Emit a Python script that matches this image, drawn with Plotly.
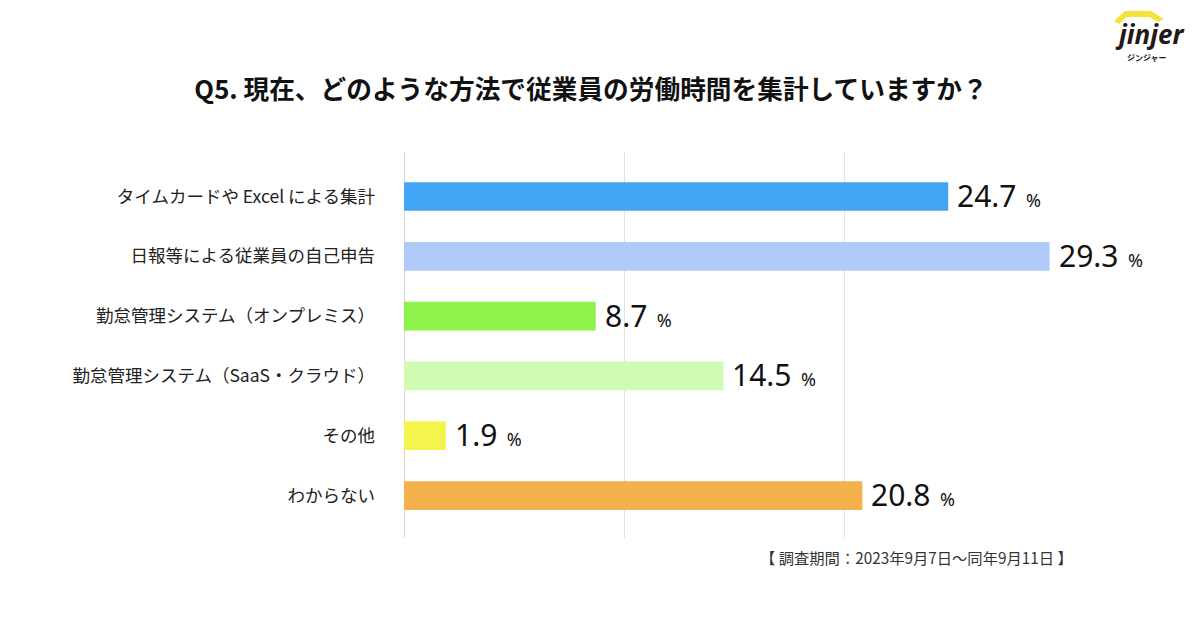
import plotly.graph_objects as go

categories = [
    "タイムカードや Excel による集計",
    "日報等による従業員の自己申告",
    "勤怠管理システム（オンプレミス）",
    "勤怠管理システム（SaaS・クラウド）",
    "その他",
    "わからない",
]
values = [24.7, 29.3, 8.7, 14.5, 1.9, 20.8]
colors = ["#42A5F5", "#B0CBFA", "#8DF24A", "#D0FBB1", "#F4F54C", "#F5B24C"]

title_text = "Q5. 現在、どのような方法で従業員の労働時間を集計していますか？"
note_text = "【 調査期間：2023年9月7日～同年9月11日 】"

OFF = 8  # page body margin
W, H = 1200 - OFF, 630 - OFF
# target page-pixel positions of the plot area
L_PG, R_PG, T_PG, B_PG = 404, 1065, 152, 538
ML, MT = L_PG - OFF, T_PG - OFF
MR = W - (R_PG - OFF)
MB = H - (B_PG - OFF)
PW, PH = W - ML - MR, H - MT - MB


def px(x):
    """page pixel x -> paper coordinate"""
    return (x - OFF - ML) / PW


def py(y):
    """page pixel y -> paper coordinate"""
    return (H - MB - (y - OFF)) / PH


FONT = "Noto Sans CJK JP, Noto Sans, sans-serif"

fig = go.Figure()
fig.add_trace(go.Bar(
    x=values,
    y=categories,
    orientation="h",
    marker=dict(color=colors, line=dict(width=0)),
    width=0.48,
    hoverinfo="skip",
))

for c, v in zip(categories, values):
    fig.add_annotation(
        x=v, y=c, xref="x", yref="y",
        text=(f"<span style='font-size:30px'>{v:.1f}</span>"
              f"<span style='font-size:18px'>&nbsp;&nbsp;%</span>"),
        showarrow=False, xanchor="left", yanchor="middle", xshift=7, yshift=1,
        font=dict(family="Noto Sans, sans-serif", color="#111111"),
    )

fig.add_annotation(
    x=1.0, y=py(557), xref="paper", yref="paper",
    text=note_text, showarrow=False, xanchor="right", yanchor="middle",
    xshift=10,
    font=dict(family=FONT, size=15.3, color="#333333"),
)

# logo
fig.add_shape(
    type="path", xref="paper", yref="paper",
    path=(f"M {px(1114)},{py(21)} L {px(1125)},{py(11)} L {px(1151)},{py(11)} "
          f"L {px(1164)},{py(19)} L {px(1158)},{py(22)} L {px(1149)},{py(17)} "
          f"L {px(1127)},{py(17)} L {px(1119)},{py(24)} Z"),
    fillcolor="#F5E23A", line=dict(width=0), layer="above",
)
fig.add_annotation(
    x=px(1150), y=py(34), xref="paper", yref="paper",
    text="<b><i>jinjer</i></b>", showarrow=False, xanchor="center", yanchor="middle",
    font=dict(family="Noto Sans, sans-serif", size=26, color="#231815"),
)
fig.add_annotation(
    x=px(1147), y=py(57), xref="paper", yref="paper",
    text="<b>ジンジャー</b>", showarrow=False, xanchor="center", yanchor="middle",
    font=dict(family=FONT, size=8, color="#231815"),
)

fig.update_layout(
    width=W, height=H,
    margin=dict(l=ML, r=MR, t=MT, b=MB),
    paper_bgcolor="white", plot_bgcolor="white",
    showlegend=False,
    title=dict(
        text=f"<b>{title_text}</b>",
        x=(591 - OFF) / W, xref="container", xanchor="center",
        y=1 - (90 - OFF) / H, yref="container", yanchor="middle",
        font=dict(family=FONT, size=25.7, color="#111111"),
    ),
    xaxis=dict(
        range=[0, 30], dtick=10, showticklabels=False,
        showgrid=True, gridcolor="#E3E3E3", gridwidth=1,
        zeroline=True, zerolinecolor="#D6D6D6", zerolinewidth=1,
        showline=False, fixedrange=True,
    ),
    yaxis=dict(
        type="category", categoryorder="array", categoryarray=categories,
        range=[5.71, -0.744],
        showgrid=False, zeroline=False, showline=False,
        ticks="", ticklabelstandoff=28,
        tickfont=dict(family=FONT, size=17.5, color="#222222"),
        fixedrange=True,
    ),
)

fig.write_html("out.html")
